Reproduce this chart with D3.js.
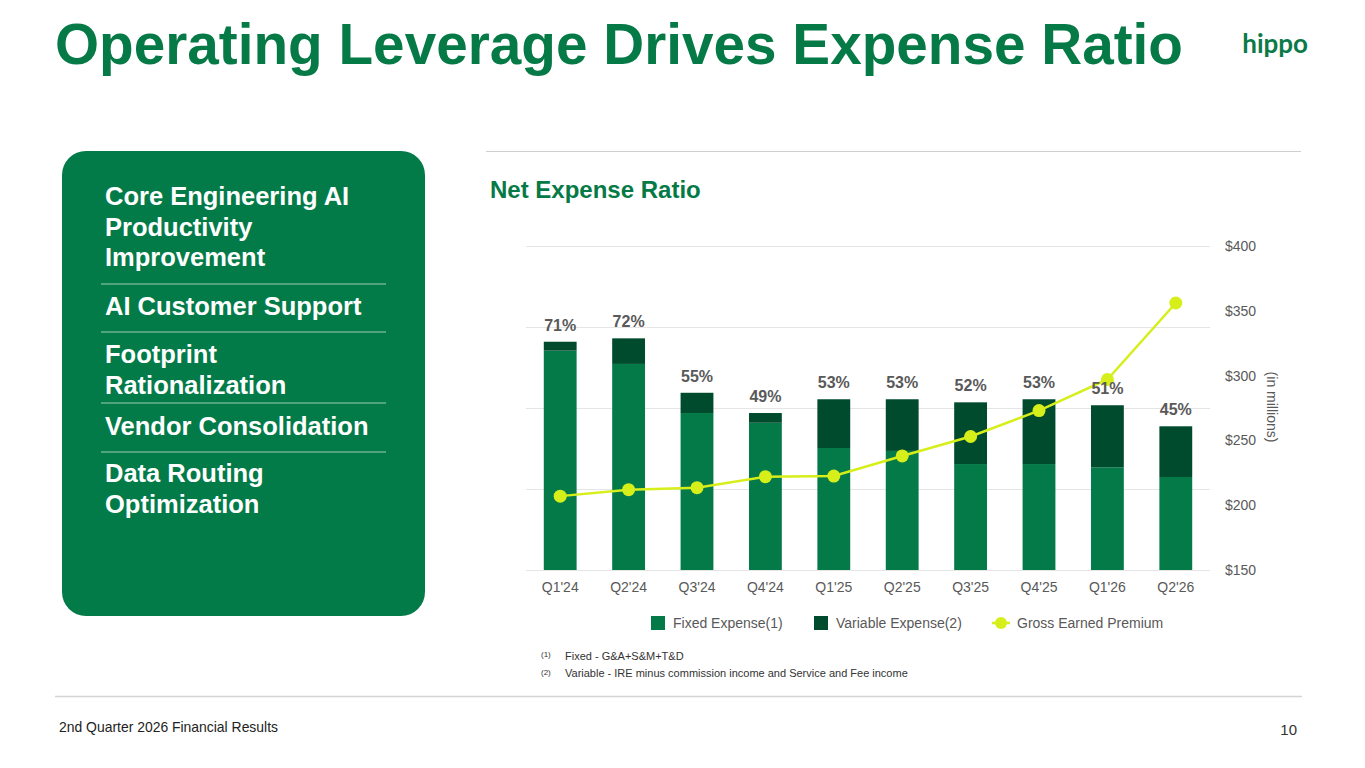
<!DOCTYPE html>
<html>
<head>
<meta charset="utf-8">
<script src="https://cdn.jsdelivr.net/npm/d3@7"></script>
<style>
  body { margin: 0; background: #fff; }
  svg { display: block; font-family: "Liberation Sans", Arial, sans-serif; }
</style>
</head>
<body>
<svg id="slide" width="1365" height="768"></svg>
<script>
// chart data
const quarters = ["Q1'24", "Q2'24", "Q3'24", "Q4'24", "Q1'25", "Q2'25", "Q3'25", "Q4'25", "Q1'26", "Q2'26"];
const fixedExpense = [135.4, 127.2, 96.9, 90.9, 75.3, 73.5, 65.4, 65.4, 63.4, 57.4];
const variableExpense = [5.5, 15.8, 12.5, 6.0, 30.1, 31.9, 38.1, 40.0, 38.3, 31.3];
const expenseRatio = ['71%', '72%', '55%', '49%', '53%', '53%', '52%', '53%', '51%', '45%'];
const grossEarnedPremium = [207, 212, 213.5, 222, 222.5, 238, 253, 273, 297, 356];
const premiumTicks = [150, 200, 250, 300, 350, 400];
const expenseTicks = [0, 50, 100, 150, 200];

const panelItems = [
  ['Core Engineering AI', 'Productivity', 'Improvement'],
  ['AI Customer Support'],
  ['Footprint', 'Rationalization'],
  ['Vendor Consolidation'],
  ['Data Routing', 'Optimization']
];
const legendItems = ['Fixed Expense(1)', 'Variable Expense(2)', 'Gross Earned Premium'];
const footnotes = [['(1)', 'Fixed - G&A+S&M+T&D'], ['(2)', 'Variable - IRE minus commission income and Service and Fee income']];

const green = '#047a48';
const darkGreen = '#004b2d';
const lime = '#d6ee1a';
const gray = '#595959';

let svg = d3.select('#slide');

// title + logo
svg.append('text')
  .attr('x', 55).attr('y', 64)
  .attr('font-size', 57).attr('font-weight', 700)
  .attr('fill', '#067a46')
  .attr('textLength', 1128).attr('lengthAdjust', 'spacingAndGlyphs')
  .text('Operating Leverage Drives Expense Ratio');

svg.append('text')
  .attr('x', 1308).attr('y', 53)
  .attr('text-anchor', 'end')
  .attr('font-family', 'Lato, "Liberation Sans", sans-serif')
  .attr('font-size', 26).attr('font-weight', 700)
  .attr('fill', '#0b7a48')
  .text('hippo');

// left panel
svg.append('rect')
  .attr('x', 62).attr('y', 151)
  .attr('width', 363).attr('height', 465)
  .attr('rx', 24)
  .attr('fill', '#037b49');

let itemTops = [205, 315, 363, 435, 482];
let separators = [284, 332, 403, 452];

panelItems.forEach((lines, i) => {
  lines.forEach((line, j) => {
    svg.append('text')
      .attr('x', 105).attr('y', itemTops[i] + j * 30.5)
      .attr('font-size', 25.5).attr('font-weight', 700)
      .attr('fill', '#fff')
      .text(line);
  });
});

separators.forEach(y => {
  svg.append('line')
    .attr('x1', 101).attr('x2', 386)
    .attr('y1', y).attr('y2', y)
    .attr('stroke', '#9fcfb4').attr('stroke-width', 1);
});

// rules
svg.append('line')
  .attr('x1', 486).attr('x2', 1301).attr('y1', 151.5).attr('y2', 151.5)
  .attr('stroke', '#cfcfcf');
svg.append('line')
  .attr('x1', 55).attr('x2', 1302).attr('y1', 696.5).attr('y2', 696.5)
  .attr('stroke', '#d4d4d4').attr('stroke-width', 1.5);

svg.append('text')
  .attr('x', 490).attr('y', 198)
  .attr('font-size', 24).attr('font-weight', 700)
  .attr('fill', '#067a46')
  .text('Net Expense Ratio');

// chart
let x = d3.scaleBand()
  .domain(quarters)
  .range([526, 1210])
  .paddingInner(0.52)
  .paddingOuter(0.26);

let yExp = d3.scaleLinear().domain([0, 200]).range([570, 246]);
let yPrem = d3.scaleLinear().domain([150, 400]).range([570, 246]);

svg.append('g')
  .selectAll('line')
  .data(expenseTicks)
  .join('line')
  .attr('x1', 526).attr('x2', 1210)
  .attr('y1', d => Math.round(yExp(d)) + 0.5)
  .attr('y2', d => Math.round(yExp(d)) + 0.5)
  .attr('stroke', '#e5e5e5');

let stacked = d3.stack().keys(['fixed', 'variable'])(
  quarters.map((q, i) => ({ q, fixed: fixedExpense[i], variable: variableExpense[i] }))
);
let stackColors = [green, darkGreen];

stacked.forEach((layer, k) => {
  svg.append('g')
    .selectAll('rect')
    .data(layer)
    .join('rect')
    .attr('x', d => x(d.data.q))
    .attr('width', x.bandwidth())
    .attr('y', d => yExp(d[1]))
    .attr('height', d => yExp(d[0]) - yExp(d[1]))
    .attr('fill', stackColors[k]);
});

// right axis
let rightAxis = d3.axisRight(yPrem)
  .tickValues(premiumTicks)
  .tickFormat(d => '$' + d)
  .tickSize(0)
  .tickPadding(0);

let ra = svg.append('g')
  .attr('transform', 'translate(1225,0)')
  .call(rightAxis);
ra.select('.domain').remove();
ra.selectAll('text')
  .attr('font-size', 14)
  .attr('font-family', '"Liberation Sans", Arial, sans-serif')
  .attr('fill', gray);

svg.append('text')
  .attr('transform', 'translate(1267,407) rotate(90)')
  .attr('text-anchor', 'middle')
  .attr('font-size', 14)
  .attr('fill', gray)
  .text('(in millions)');

// x axis
let bottomAxis = d3.axisBottom(x).tickSize(0).tickPadding(0);
let xa = svg.append('g')
  .attr('transform', 'translate(0,582)')
  .call(bottomAxis);
xa.select('.domain').remove();
xa.selectAll('text')
  .attr('font-size', 14)
  .attr('font-family', '"Liberation Sans", Arial, sans-serif')
  .attr('fill', gray);

// premium line
let line = d3.line()
  .x((d, i) => x(quarters[i]) + x.bandwidth() / 2)
  .y(d => yPrem(d));

svg.append('path')
  .datum(grossEarnedPremium)
  .attr('d', line)
  .attr('fill', 'none')
  .attr('stroke', lime)
  .attr('stroke-width', 2.5);

svg.append('g')
  .selectAll('circle')
  .data(grossEarnedPremium)
  .join('circle')
  .attr('cx', (d, i) => x(quarters[i]) + x.bandwidth() / 2)
  .attr('cy', d => yPrem(d))
  .attr('r', 6.5)
  .attr('fill', lime);

// ratio labels
svg.append('g')
  .selectAll('text')
  .data(expenseRatio)
  .join('text')
  .attr('x', (d, i) => x(quarters[i]) + x.bandwidth() / 2)
  .attr('y', (d, i) => yExp(fixedExpense[i] + variableExpense[i]) - 11)
  .attr('text-anchor', 'middle')
  .attr('font-size', 16).attr('font-weight', 700)
  .attr('fill', gray)
  .text(d => d);

// legend
let legendX = [651, 814, 992];
legendItems.forEach((label, i) => {
  let g = svg.append('g').attr('transform', `translate(${legendX[i]},0)`);
  if (i < 2) {
    g.append('rect')
      .attr('x', 0).attr('y', 616)
      .attr('width', 14).attr('height', 14)
      .attr('fill', stackColors[i]);
  } else {
    g.append('line')
      .attr('x1', 0).attr('x2', 18).attr('y1', 623).attr('y2', 623)
      .attr('stroke', lime).attr('stroke-width', 2.5);
    g.append('circle')
      .attr('cx', 9).attr('cy', 623).attr('r', 6)
      .attr('fill', lime);
  }
  g.append('text')
    .attr('x', i < 2 ? 22 : 25).attr('y', 628)
    .attr('font-size', 14)
    .attr('fill', gray)
    .text(label);
});

// footnotes
footnotes.forEach(([mark, text], i) => {
  svg.append('text')
    .attr('x', 541).attr('y', 657 + i * 18)
    .attr('font-size', 8)
    .attr('fill', '#333')
    .text(mark);
  svg.append('text')
    .attr('x', 565).attr('y', 660 + i * 17)
    .attr('font-size', 11)
    .attr('fill', '#333')
    .text(text);
});

// footer
svg.append('text')
  .attr('x', 59).attr('y', 732)
  .attr('font-size', 15)
  .attr('fill', '#222')
  .attr('textLength', 219).attr('lengthAdjust', 'spacingAndGlyphs')
  .text('2nd Quarter 2026 Financial Results');

svg.append('text')
  .attr('x', 1297).attr('y', 735)
  .attr('text-anchor', 'end')
  .attr('font-size', 15)
  .attr('fill', '#333')
  .text('10');
</script>
</body>
</html>
